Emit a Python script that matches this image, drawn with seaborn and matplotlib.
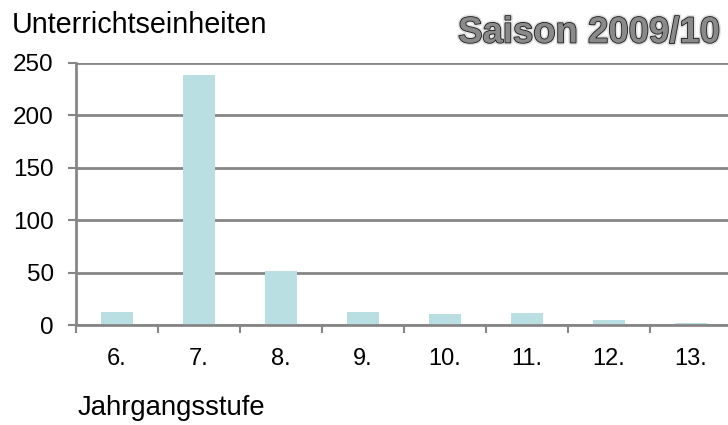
import matplotlib
matplotlib.use("Agg")
import matplotlib.pyplot as plt
import matplotlib.patheffects as pe
import seaborn as sns
import pandas as pd

# data
stufen = ["6.", "7.", "8.", "9.", "10.", "11.", "12.", "13."]
einheiten = [13, 238, 52, 13, 11, 12, 5, 2]

df = pd.DataFrame({"Stufe": stufen, "Einheiten": einheiten})

sns.set_style("white")
plt.rcParams["font.family"] = ["Liberation Sans", "DejaVu Sans"]
plt.rcParams["text.color"] = "black"
plt.rcParams["xtick.color"] = "black"
plt.rcParams["ytick.color"] = "black"

fig = plt.figure(figsize=(7.28, 4.25), dpi=100)
ax = fig.add_axes([76 / 728, 1 - 325.3 / 425, 656 / 728, 262.6 / 425])

sns.barplot(data=df, x="Stufe", y="Einheiten", color="#b9dfe2",
            saturation=1, width=0.4, linewidth=0, ax=ax)

grey = "#868686"
ax.set_ylim(0, 250)
ax.set_xlim(-0.5, 7.5)
ax.set_yticks(range(0, 251, 50))
ax.yaxis.grid(True, color=grey, linewidth=2)
ax.set_axisbelow(True)
for s in ["top", "right"]:
    ax.spines[s].set_visible(False)
for s in ["left", "bottom"]:
    ax.spines[s].set_color(grey)
    ax.spines[s].set_linewidth(2)

ax.set_xticks([i - 0.5 for i in range(8)], minor=True)
ax.tick_params(axis="x", which="major", length=0, pad=16, labelsize=17,
               labelcolor="black")
ax.tick_params(axis="x", which="minor", length=6, width=1.5, color=grey,
               direction="out", bottom=True)
ax.tick_params(axis="y", length=6, width=1.5, color=grey, direction="out",
               left=True, pad=10, labelsize=17.5, labelcolor="black")

ax.set_xlabel("")
ax.set_ylabel("")

fig.text(12 / 728, 1 - 25 / 425, "Unterrichtseinheiten", fontsize=20.7,
         ha="left", va="center", color="black")
fig.text(78 / 728, 1 - 408 / 425, "Jahrgangsstufe", fontsize=19.8,
         ha="left", va="center", color="black")
fig.text(720 / 728, 1 - 33 / 425, "Saison 2009/10", fontsize=26.3,
         fontweight="bold", ha="right", va="center", color="#8a8a8a",
         path_effects=[pe.Stroke(linewidth=3.5, foreground="#e2e2e2"),
                       pe.Stroke(linewidth=1.2, foreground="#1a1a1a"),
                       pe.Normal()])

fig.savefig("out.png", dpi=100)
